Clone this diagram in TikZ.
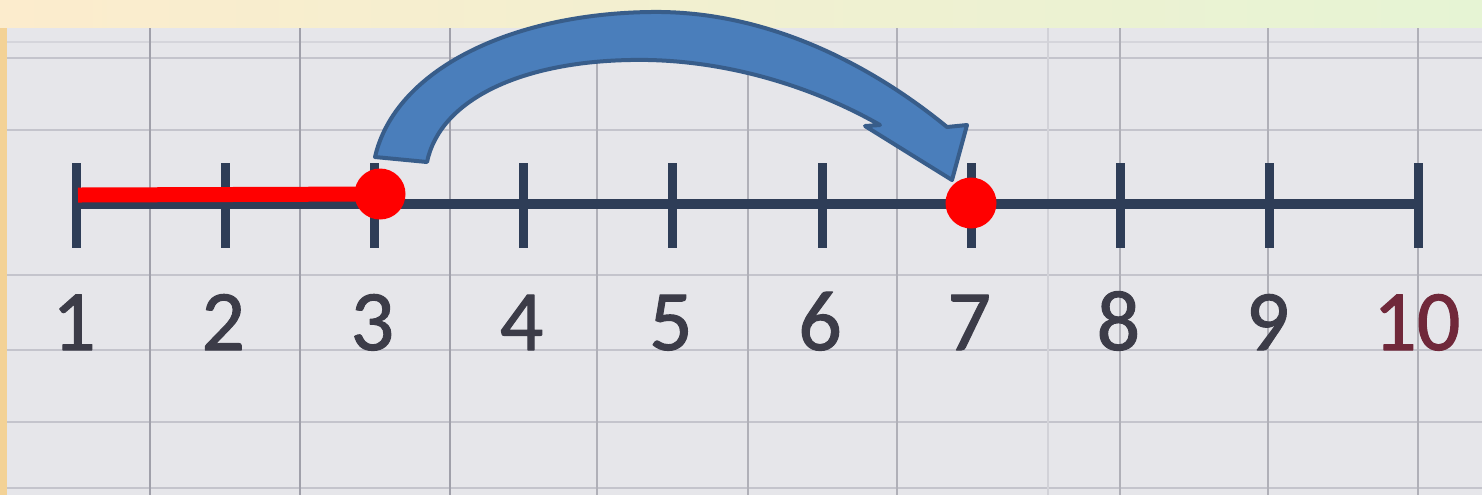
\documentclass[tikz,border=0pt]{standalone}
\usepackage{fontspec}
\setmainfont{Carlito}
\newfontfamily\numfont{Carlito}[FakeBold=1.2]
\usepackage{xcolor}
\definecolor{gridgrey}{RGB}{230, 230, 234}
\definecolor{gridline}{RGB}{196, 196, 204}
\definecolor{gridlinedark}{RGB}{160, 160, 170}
\definecolor{slideorange}{RGB}{252, 236, 205}
\definecolor{slidegreen}{RGB}{230, 244, 212}
\definecolor{striporange}{RGB}{243, 210, 150}
\definecolor{axisnavy}{RGB}{46, 61, 87}
\definecolor{dotred}{RGB}{255, 0, 0}
\definecolor{arrowblue}{RGB}{74, 126, 187}
\definecolor{arrowedge}{RGB}{56, 93, 138}
\definecolor{digitgrey}{RGB}{60, 60, 72}
\definecolor{digitred}{RGB}{112, 40, 58}
\usepackage{tikz}
\usetikzlibrary{positioning, calc}

\tikzset{
    tickmark/.style={line width=4.5pt, axisnavy},
    numlabel/.style={anchor=base, font=\numfont\fontsize{43}{48}\selectfont, text=digitgrey, inner sep=0pt},
    jumpdot/.style={circle, fill=dotred, minimum size=25.5pt, inner sep=0pt},
}

\begin{document}
\begin{tikzpicture}[x=0.5pt, y=-0.5pt, line join=round]
    \useasboundingbox (0,0) rectangle (1482,495);
    % slide backdrop and grid paper
    \shade[left color=slideorange, middle color=white, right color=slidegreen] (0,0) rectangle (1482,30);
    \fill[striporange] (0,28) rectangle (8,495);
    \fill[gridgrey] (7,28) rectangle (1482,495);
    \foreach \y in {58, 130, 275, 350, 422, 488}
        \draw[gridline, line width=1.2pt] (7,\y) -- (1482,\y);
    \draw[gridline!50!gridgrey, line width=0.8pt] (7,42) -- (1482,42);
    \foreach \x in {150, 300, 450}
        \draw[gridlinedark, line width=1.2pt] (\x,28) -- (\x,495);
    \foreach \x in {597, 748, 897, 1120, 1268, 1418}
        \draw[gridline!90!black, line width=1pt] (\x,28) -- (\x,495);
    \draw[gridline!60!gridgrey, line width=0.8pt] (1048,28) -- (1048,495);

    % number line
    \foreach \i in {1,...,10}
        \coordinate (t\i) at ({76+(\i-1)*149.2}, 204);
    \draw[line width=5pt, axisnavy] (t1) -- (t10);
    \foreach \i in {1,...,9} {
        \draw[tickmark] ($(t\i)+(0,-41)$) -- ($(t\i)+(0,44)$);
        \node[numlabel] (lbl\i) at ($(t\i)+(-2,146)$) {\i};
    }
    \draw[tickmark] ($(t10)+(0,-41)$) -- ($(t10)+(0,44)$);
    \node[numlabel, text=digitred] (lbl10) at ($(t10)+(-2,146)$) {10};

    % jump from 3 to 7
    \coordinate (redstart) at ($(t1)+(2,-9)$);
    \coordinate (hopfrom) at (380,194);
    \draw[line width=7.5pt, dotred] (redstart) -- (hopfrom);
    \node[jumpdot] (dotA) at (hopfrom) {};
    \node[jumpdot] (dotB) at (971,203) {};
    \draw[fill=arrowblue, draw=arrowedge, line width=2pt]
        (375,157) .. controls (395,70) and (510,14) .. (650,12)
        .. controls (770,10) and (875,68) .. (947,127)
        -- (967,125) -- (952,180) -- (865,126) -- (880,125)
        .. controls (810,85) and (720,58) .. (630,60)
        .. controls (520,62) and (440,100) .. (427,162) -- cycle;
\end{tikzpicture}
\end{document}
